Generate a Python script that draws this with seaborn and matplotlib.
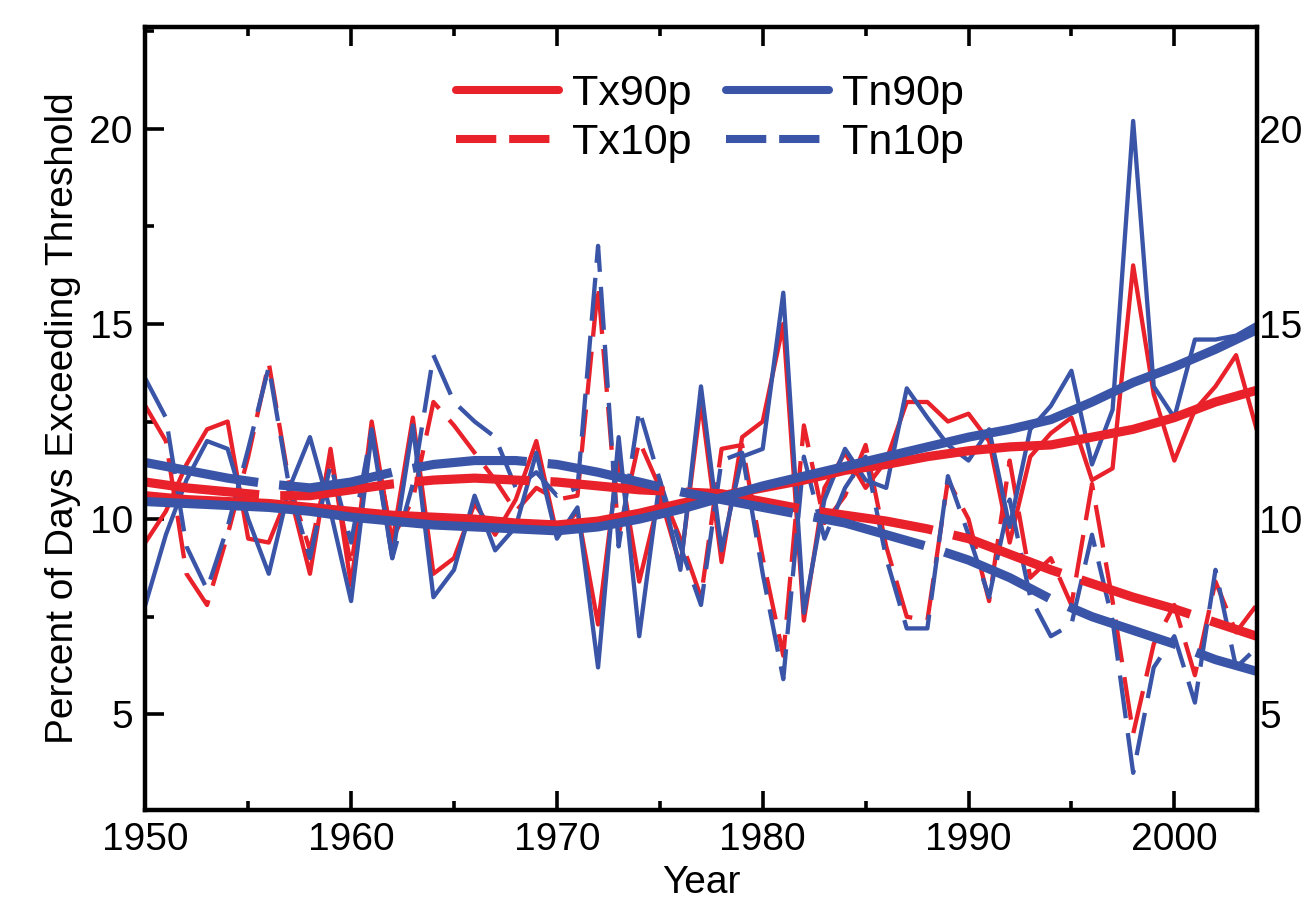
import matplotlib
matplotlib.use("Agg")
import matplotlib.pyplot as plt
from matplotlib.lines import Line2D
from matplotlib.ticker import MultipleLocator
import seaborn as sns

# annual values, 1950-2004
years = list(range(1950, 2005))

tx90p = [9.4, 10.2, 11.4, 12.3, 12.5, 9.5, 9.4, 10.7, 8.6, 11.8,
         8.3, 12.5, 9.4, 12.6, 8.6, 9.0, 10.4, 9.6, 10.5, 12.0,
         9.6, 10.2, 7.3, 11.6, 8.4, 10.6, 8.8, 13.0, 8.9, 12.1,
         12.5, 15.0, 7.4, 10.8, 11.7, 10.8, 11.5, 13.0, 13.0, 12.5,
         12.7, 12.0, 9.4, 11.6, 12.2, 12.6, 11.0, 11.3, 16.5, 13.2,
         11.5, 12.8, 13.4, 14.2, 12.3]

tn90p = [7.8, 9.6, 11.0, 12.0, 11.8, 10.0, 8.6, 10.8, 12.1, 10.2,
         7.9, 12.2, 9.0, 12.4, 8.0, 8.7, 10.6, 9.2, 9.8, 11.7,
         9.5, 10.3, 6.2, 12.1, 7.0, 11.0, 8.7, 13.4, 9.2, 11.6,
         11.8, 15.8, 7.6, 10.5, 11.8, 11.0, 10.8, 13.35, 12.6, 11.9,
         11.5, 12.3, 9.8, 12.3, 12.9, 13.8, 11.4, 12.8, 20.2, 13.4,
         12.6, 14.6, 14.6, 14.7, 15.0]

tx10p = [12.9, 12.0, 8.6, 7.8, 9.6, 11.6, 14.0, 10.9, 9.2, 11.6,
         8.8, 12.3, 9.5, 10.5, 13.0, 12.4, 11.7, 11.0, 10.2, 10.8,
         10.5, 10.6, 16.0, 9.6, 12.0, 10.8, 9.5, 8.0, 11.8, 11.9,
         9.0, 6.5, 12.4, 9.9, 10.6, 11.9, 9.3, 7.5, 7.4, 11.0,
         10.0, 7.9, 11.5, 8.5, 9.0, 7.8, 10.9, 7.9, 4.5, 6.8,
         7.8, 6.0, 8.4, 7.1, 7.8]

tn10p = [13.6, 12.6, 9.3, 8.2, 9.8, 11.8, 13.9, 10.8, 9.0, 11.4,
         9.4, 12.3, 9.0, 10.9, 14.2, 13.0, 12.5, 12.1, 10.8, 11.2,
         10.6, 10.8, 17.0, 9.3, 12.8, 11.0, 9.3, 7.8, 11.5, 11.7,
         8.6, 5.9, 11.6, 9.5, 10.8, 11.6, 9.0, 7.2, 7.2, 11.1,
         9.6, 8.0, 10.5, 8.0, 7.0, 7.3, 9.6, 7.4, 3.5, 6.2,
         7.0, 5.3, 8.7, 6.2, 6.7]

# smoothed trends, every second year
trend_years = list(range(1950, 2005, 2))

tx90p_trend = [10.6, 10.5, 10.45, 10.4, 10.3, 10.2, 10.1, 10.05, 10.0, 9.9,
               9.85, 9.95, 10.15, 10.4, 10.6, 10.8, 11.0, 11.25, 11.4, 11.6,
               11.75, 11.85, 11.9, 12.1, 12.3, 12.6, 13.0, 13.3]
tx10p_trend = [10.95, 10.8, 10.7, 10.6, 10.6, 10.75, 10.9, 11.0, 11.05, 11.0,
               10.95, 10.85, 10.75, 10.7, 10.65, 10.45, 10.25, 10.1, 9.95, 9.75,
               9.5, 9.1, 8.7, 8.35, 8.0, 7.7, 7.35, 7.0]
tn90p_trend = [10.45, 10.4, 10.35, 10.3, 10.2, 10.05, 9.95, 9.85, 9.8, 9.75,
               9.7, 9.8, 10.0, 10.25, 10.55, 10.85, 11.1, 11.35, 11.6, 11.85,
               12.1, 12.3, 12.55, 13.0, 13.5, 13.9, 14.35, 14.85]
tn10p_trend = [11.45, 11.25, 11.05, 10.9, 10.8, 10.95, 11.2, 11.4, 11.5, 11.5,
               11.4, 11.2, 10.95, 10.7, 10.5, 10.3, 10.1, 9.9, 9.6, 9.3,
               8.95, 8.5, 7.95, 7.5, 7.15, 6.8, 6.4, 6.1]

RED = "#E8212A"
BLUE = "#3A55A7"

sns.set_style("ticks")
plt.rcParams['font.family'] = ['Liberation Sans', 'DejaVu Sans']
plt.rcParams['text.color'] = 'black'
plt.rcParams['axes.labelcolor'] = 'black'
plt.rcParams['xtick.color'] = 'black'
plt.rcParams['ytick.color'] = 'black'

fig, ax = plt.subplots(figsize=(13.09, 9.09), dpi=100)
fig.subplots_adjust(left=0.111, right=0.960, bottom=0.109, top=0.970)

thin_dash = (0, (10, 3.5))
thick_dash = (0, (12.5, 2.3))

# annual series (thin)
sns.lineplot(x=years, y=tx90p, color=RED, linewidth=3.1, ax=ax)
sns.lineplot(x=years, y=tx10p, color=RED, linewidth=3.1, linestyle=thin_dash, ax=ax)
sns.lineplot(x=years, y=tn90p, color=BLUE, linewidth=3.1, ax=ax)
sns.lineplot(x=years, y=tn10p, color=BLUE, linewidth=3.1, linestyle=thin_dash, ax=ax)

# trends (thick)
sns.lineplot(x=trend_years, y=tx90p_trend, color=RED, linewidth=6.6, ax=ax)
sns.lineplot(x=trend_years, y=tx10p_trend, color=RED, linewidth=6.6, linestyle=thick_dash, ax=ax)
sns.lineplot(x=trend_years, y=tn90p_trend, color=BLUE, linewidth=6.6, ax=ax)
sns.lineplot(x=trend_years, y=tn10p_trend, color=BLUE, linewidth=6.6, linestyle=thick_dash, ax=ax)

ax.set_xlim(1950, 2004)
ax.set_ylim(2.55, 22.6)
ax.xaxis.set_major_locator(MultipleLocator(10))
ax.xaxis.set_minor_locator(MultipleLocator(5))
ax.yaxis.set_major_locator(MultipleLocator(5))
ax.yaxis.set_minor_locator(MultipleLocator(2.5))

ax.tick_params(which='both', direction='in', top=True, right=True,
               width=2.6, color='black')
ax.tick_params(which='major', length=14, labelsize=28, pad=9)
ax.tick_params(which='minor', length=6.5)
for s in ax.spines.values():
    s.set_linewidth(3.2)
    s.set_color('black')

# right-hand labels sit tight against the frame
ax_r = ax.twinx()
ax_r.set_ylim(ax.get_ylim())
ax_r.yaxis.set_major_locator(MultipleLocator(5))
ax_r.tick_params(axis='y', which='both', length=0, labelsize=28, pad=2)
for s in ax_r.spines.values():
    s.set_visible(False)

ax.set_xlabel("Year", fontsize=28, labelpad=5)
ax.set_ylabel("Percent of Days Exceeding Threshold", fontsize=28, labelpad=6)

handles = [
    Line2D([], [], color=RED, lw=5.8),
    Line2D([], [], color=RED, lw=5.8, linestyle=(0, (5, 1.6))),
    Line2D([], [], color=BLUE, lw=5.8),
    Line2D([], [], color=BLUE, lw=5.8, linestyle=(0, (5, 1.6))),
]
labels = ["Tx90p", "Tx10p", "Tn90p", "Tn10p"]
ax.legend(handles, labels, loc='upper center', bbox_to_anchor=(0.508, 0.962),
          ncol=2, frameon=False, fontsize=31, handlelength=2.4,
          handletextpad=0.3, columnspacing=0.8, labelspacing=0.2,
          borderaxespad=0)

fig.savefig("out.png", dpi=100)
